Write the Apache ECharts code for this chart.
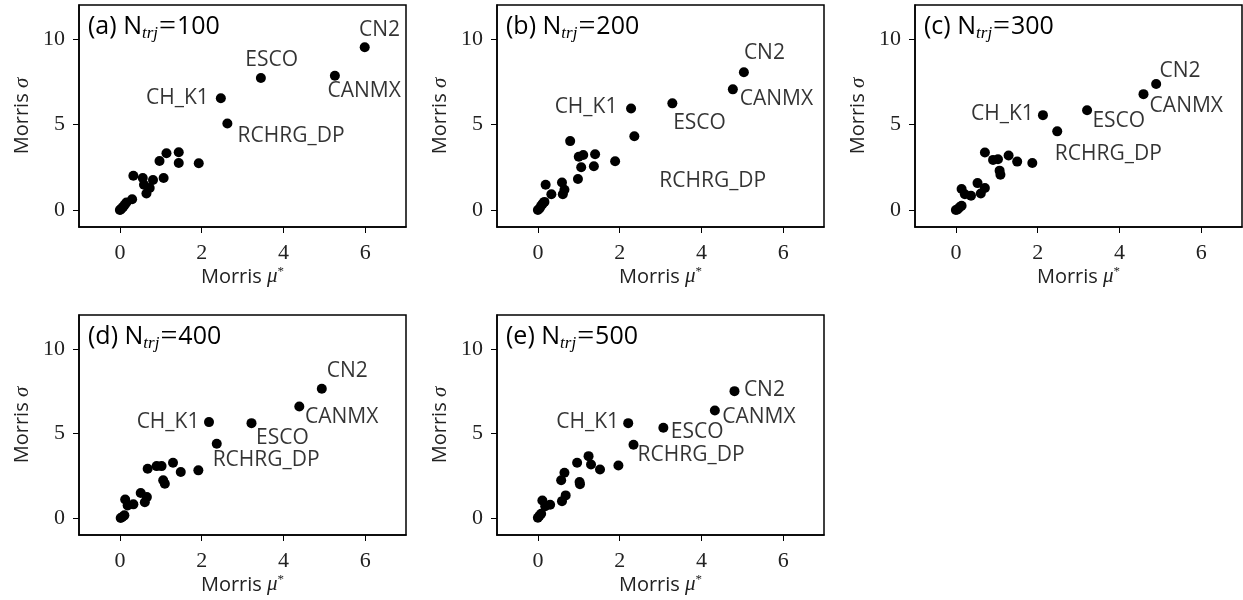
<!DOCTYPE html>
<html>
<head>
<meta charset="utf-8">
<script src="https://cdn.jsdelivr.net/npm/echarts@6/dist/echarts.min.js"></script>
<style>
html, body { margin: 0; padding: 0; background: #fff; }
#main { width: 1243px; height: 600px; }
</style>
</head>
<body>
<div id="main"></div>
<script>
// morris screening results, one panel per number of trajectories
var letters = ['a', 'b', 'c', 'd', 'e'];
var nTraj = [100, 200, 300, 400, 500];
var xTicks = [0, 2, 4, 6];
var yTicks = [0, 5, 10];
var paramNames = ['CN2', 'CANMX', 'ESCO', 'CH_K1', 'RCHRG_DP'];

// labelled parameters (same order as paramNames)
var muTopA = [5.99, 5.26, 3.45, 2.47, 2.63];
var sigmaTopA = [9.53, 7.86, 7.72, 6.54, 5.06];
var muTopB = [5.04, 4.77, 3.29, 2.28, 2.36];
var sigmaTopB = [8.06, 7.06, 6.24, 5.94, 4.31];
var muTopC = [4.90, 4.59, 3.21, 2.13, 2.48];
var sigmaTopC = [7.37, 6.78, 5.84, 5.55, 4.60];
var muTopD = [4.94, 4.39, 3.22, 2.18, 2.37];
var sigmaTopD = [7.64, 6.59, 5.61, 5.67, 4.39];
var muTopE = [4.81, 4.33, 3.07, 2.21, 2.34];
var sigmaTopE = [7.50, 6.36, 5.34, 5.61, 4.33];

// remaining parameters
var muRestA = [1.14, 1.44, 1.44, 1.93, 0.97, 1.07, 0.33, 0.56, 0.81, 0.59, 0.73, 0.65, 0.30, 0.16, 0.12, 0.08, 0.04, 0.00, 0.02];
var sigmaRestA = [3.32, 3.38, 2.75, 2.73, 2.87, 1.87, 2.00, 1.87, 1.75, 1.47, 1.28, 0.96, 0.63, 0.43, 0.30, 0.18, 0.08, 0.00, 0.03];
var muRestB = [0.79, 1.00, 1.11, 1.40, 1.89, 1.06, 1.37, 0.98, 0.19, 0.59, 0.33, 0.61, 0.65, 0.16, 0.12, 0.08, 0.04, 0.00];
var sigmaRestB = [4.03, 3.11, 3.22, 3.26, 2.85, 2.50, 2.56, 1.81, 1.47, 1.61, 0.92, 0.92, 1.18, 0.47, 0.37, 0.24, 0.08, 0.00];
var muRestC = [0.71, 0.91, 1.03, 1.29, 1.50, 1.87, 1.07, 1.09, 0.14, 0.53, 0.71, 0.61, 0.37, 0.22, 0.14, 0.09, 0.04, 0.00];
var sigmaRestC = [3.36, 2.93, 2.97, 3.19, 2.83, 2.75, 2.30, 2.06, 1.22, 1.57, 1.28, 0.96, 0.83, 0.92, 0.24, 0.15, 0.02, 0.00];
var muRestD = [0.68, 0.90, 1.02, 1.30, 1.49, 1.92, 1.06, 1.10, 0.13, 0.51, 0.66, 0.61, 0.33, 0.19, 0.11, 0.06, 0.02];
var sigmaRestD = [2.92, 3.07, 3.07, 3.27, 2.72, 2.82, 2.23, 2.03, 1.10, 1.48, 1.24, 0.94, 0.81, 0.75, 0.16, 0.06, 0.00];
var muRestE = [1.24, 0.96, 1.30, 1.52, 1.97, 0.65, 0.57, 1.02, 1.03, 0.68, 0.59, 0.11, 0.30, 0.18, 0.08, 0.04, 0.00];
var sigmaRestE = [3.66, 3.27, 3.17, 2.87, 3.11, 2.68, 2.23, 2.13, 2.00, 1.34, 1.00, 1.04, 0.79, 0.70, 0.26, 0.14, 0.02];

// where the annotation text starts (data coords, left edge / middle)
var labelMuA = [5.85, 5.08, 3.07, 0.64, 2.88];
var labelSigmaA = [10.56, 6.98, 8.79, 6.53, 4.31];
var labelMuB = [5.04, 4.94, 3.31, 0.41, 2.97];
var labelSigmaB = [9.19, 6.47, 5.06, 6.00, 1.71];
var labelMuC = [4.98, 4.74, 3.34, 0.37, 2.42];
var labelSigmaC = [8.16, 6.08, 5.21, 5.60, 3.29];
var labelMuD = [5.06, 4.53, 3.33, 0.41, 2.27];
var labelSigmaD = [8.68, 5.96, 4.75, 5.67, 3.45];
var labelMuE = [5.04, 4.51, 3.25, 0.45, 2.44];
var labelSigmaE = [7.58, 5.96, 5.08, 5.67, 3.70];

var panels = [
    [muTopA, sigmaTopA, muRestA, sigmaRestA, labelMuA, labelSigmaA],
    [muTopB, sigmaTopB, muRestB, sigmaRestB, labelMuB, labelSigmaB],
    [muTopC, sigmaTopC, muRestC, sigmaRestC, labelMuC, labelSigmaC],
    [muTopD, sigmaTopD, muRestD, sigmaRestD, labelMuD, labelSigmaD],
    [muTopE, sigmaTopE, muRestE, sigmaRestE, labelMuE, labelSigmaE]
];

var gridLeft = [79, 497, 915, 79, 497];
var gridTop = [5, 5, 5, 315, 315];
var gridH = [222, 222, 222, 220, 220];

var sans = 'Open Sans';
var serif = 'Liberation Serif';

var myChart = echarts.init(document.getElementById('main'));

var grids = [], xAxes = [], yAxes = [], series = [], titles = [];

for (var i = 0; i < panels.length; i++) {
    var p = panels[i];
    grids.push({
        left: gridLeft[i], top: gridTop[i], width: 327, height: gridH[i],
        show: true, borderColor: '#000', borderWidth: 1.5, containLabel: false
    });
    xAxes.push({
        gridIndex: i, type: 'value', min: -1, max: 7,
        splitLine: { show: false },
        axisLine: { show: true, onZero: false, lineStyle: { color: '#000', width: 1.5 } },
        axisTick: { show: true, length: 6, customValues: xTicks, lineStyle: { color: '#000', width: 1 } },
        axisLabel: { customValues: xTicks, margin: 15, fontFamily: serif, fontSize: 22, color: '#222' },
        name: '{m|Morris }{g|μ}{s|*}',
        nameLocation: 'middle', nameGap: 35,
        nameTextStyle: {
            rich: {
                m: { fontFamily: sans, fontSize: 20, lineHeight: 24, color: '#222' },
                g: { fontFamily: serif, fontStyle: 'italic', fontSize: 21, lineHeight: 24, color: '#222' },
                s: { fontFamily: serif, fontSize: 13, lineHeight: 12, verticalAlign: 'top', color: '#222' }
            }
        }
    });
    yAxes.push({
        gridIndex: i, type: 'value', min: -1, max: 12,
        splitLine: { show: false },
        axisLine: { show: true, onZero: false, lineStyle: { color: '#000', width: 1.5 } },
        axisTick: { show: true, length: 6, customValues: yTicks, lineStyle: { color: '#000', width: 1 } },
        axisLabel: { customValues: yTicks, margin: 14, fontFamily: serif, fontSize: 22, color: '#222' },
        name: '{m|Morris }{g|σ}',
        nameLocation: 'middle', nameGap: 45,
        nameTextStyle: {
            rich: {
                m: { fontFamily: sans, fontSize: 20, lineHeight: 24, color: '#222' },
                g: { fontFamily: serif, fontStyle: 'italic', fontSize: 21, lineHeight: 24, color: '#222' }
            }
        }
    });

    var pts = [];
    for (var k = 0; k < p[0].length; k++) pts.push([p[0][k], p[1][k]]);
    for (var k = 0; k < p[2].length; k++) pts.push([p[2][k], p[3][k]]);
    series.push({
        type: 'scatter', xAxisIndex: i, yAxisIndex: i,
        symbolSize: 10, itemStyle: { color: '#000', opacity: 1 },
        data: pts, silent: true
    });

    var labs = [];
    for (var k = 0; k < paramNames.length; k++) labs.push([p[4][k], p[5][k], paramNames[k]]);
    series.push({
        type: 'scatter', xAxisIndex: i, yAxisIndex: i,
        symbolSize: 0, silent: true, data: labs,
        label: {
            show: true, position: 'right', distance: 0,
            formatter: function (q) { return q.data[2]; },
            fontFamily: sans, fontSize: 21, color: '#000'
        }
    });

    titles.push({
        left: gridLeft[i] + 9, top: gridTop[i] + 7, padding: 0,
        text: '{a|(' + letters[i] + ') N}{s|trj}{e|=}{a|' + nTraj[i] + '}',
        textStyle: {
            fontWeight: 'normal',
            rich: {
                a: { fontFamily: sans, fontWeight: 'normal', fontSize: 25, lineHeight: 30, color: '#000' },
                s: { fontFamily: serif, fontWeight: 'normal', fontStyle: 'italic', fontSize: 17, lineHeight: 15, verticalAlign: 'bottom', color: '#000' },
                e: { fontFamily: serif, fontWeight: 'normal', fontSize: 30, lineHeight: 30, color: '#000', padding: [0, 1, 0, 1] }
            }
        }
    });
}

var option = {
    backgroundColor: '#fff',
    animation: false,
    title: titles,
    grid: grids,
    xAxis: xAxes,
    yAxis: yAxes,
    series: series
};

myChart.setOption(option);
</script>
</body>
</html>
